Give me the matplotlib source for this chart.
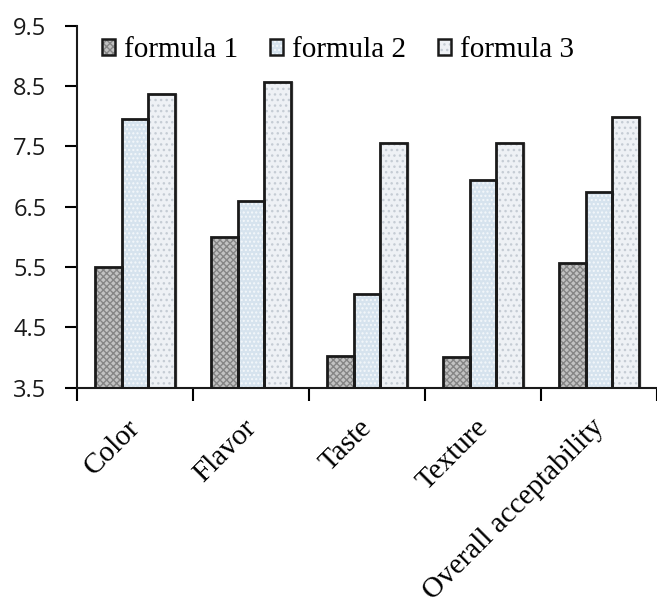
import matplotlib
matplotlib.use("Agg")
import matplotlib.pyplot as plt
import numpy as np
from matplotlib.patches import Patch
from matplotlib.legend_handler import HandlerTuple

categories = ["Color", "Flavor", "Taste", "Texture", "Overall acceptability"]
series_names = ["formula 1", "formula 2", "formula 3"]
formula1 = [5.50, 6.00, 4.03, 4.01, 5.56]
formula2 = [7.95, 6.59, 5.06, 6.95, 6.74]
formula3 = [8.37, 8.56, 7.55, 7.55, 7.98]
yticks = [3.5, 4.5, 5.5, 6.5, 7.5, 8.5, 9.5]
ytick_labels = ["3.5", "4.5", "5.5", "6.5", "7.5", "8.5", "9.5"]

fills = ["#c2c2c2", "#d6e3ee", "#eef1f5"]
hatch_cols = ["#858585", "#f4f8fb", "#c5ccd4"]
hatches = ["xxxxx", "....", "..."]

fig = plt.figure(figsize=(6.57, 6.05), dpi=100)
ax = fig.add_axes([77/657, 217.4/605, 580/657, (579.3-217.4)/605])

x = np.arange(len(categories))
w = 0.228
data = [formula1, formula2, formula3]
handles = []
for i, vals in enumerate(data):
    pos = x + (i - 1) * w
    ax.bar(pos + 0.03, np.array(vals) - 3.5, bottom=3.5, width=w, color="#e6e6e6",
           linewidth=0, zorder=1)
    ax.bar(pos, np.array(vals) - 3.5, bottom=3.5, width=w, color=fills[i],
           edgecolor=hatch_cols[i], linewidth=0, hatch=hatches[i], zorder=2)
    ax.bar(pos, np.array(vals) - 3.5, bottom=3.5, width=w, fill=False,
           edgecolor="#1a1a1a", linewidth=2.0, zorder=3)
    h1 = Patch(facecolor=fills[i], edgecolor=hatch_cols[i], hatch=hatches[i], linewidth=0)
    h2 = Patch(fill=False, edgecolor="#1a1a1a", linewidth=1.8)
    handles.append((h1, h2))

ax.set_xlim(-0.5, 4.5)
ax.set_ylim(3.5, 9.5)
ax.spines["top"].set_visible(False)
ax.spines["right"].set_visible(False)
for s in ["left", "bottom"]:
    ax.spines[s].set_linewidth(1.5)
    ax.spines[s].set_color("#1a1a1a")

ax.set_yticks(yticks)
ax.set_yticklabels(ytick_labels, fontfamily="Open Sans", fontsize=17, color="#1a1a1a")
ax.tick_params(axis="y", direction="out", length=9, width=1.5, pad=13)

ax.set_xticks(np.arange(len(categories) + 1) - 0.5)
ax.set_xticklabels([])
ax.tick_params(axis="x", which="major", direction="out", length=9, width=1.5)

for i, cat in enumerate(categories):
    ax.annotate(cat, xy=(x[i], 0), xycoords=("data", "axes fraction"),
                xytext=(-5.8, -19.5), textcoords="offset points",
                rotation=45, ha="right", va="top", rotation_mode="anchor",
                fontfamily="Liberation Serif", fontsize=21, annotation_clip=False)

leg = ax.legend(handles, series_names, handler_map={tuple: HandlerTuple(ndivide=1)},
                loc="upper left", bbox_to_anchor=(0.023, 1.0), ncol=3, frameon=False,
                prop={"family": "Liberation Serif", "size": 21},
                handlelength=0.45, handleheight=0.45, handletextpad=0.3,
                columnspacing=1.1, borderaxespad=0.0)

fig.savefig("out.png", dpi=100)
